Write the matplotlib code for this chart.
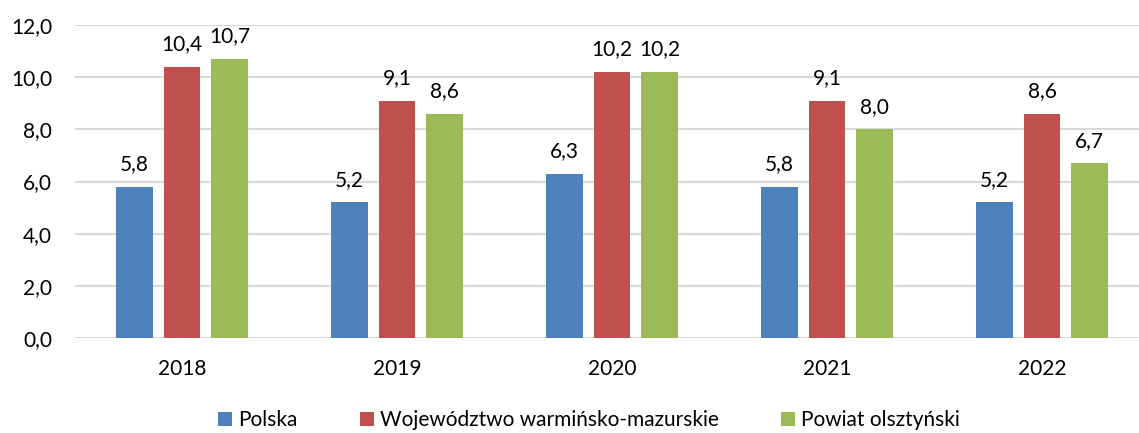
import numpy as np
import matplotlib.pyplot as plt

years = ['2018', '2019', '2020', '2021', '2022']
polska = [5.8, 5.2, 6.3, 5.8, 5.2]
wojewodztwo = [10.4, 9.1, 10.2, 9.1, 8.6]
powiat = [10.7, 8.6, 10.2, 8.0, 6.7]

series = [
    ('Polska', polska, '#4F81BD'),
    ('Województwo warmińsko-mazurskie', wojewodztwo, '#C0504D'),
    ('Powiat olsztyński', powiat, '#9BBB59'),
]

plt.rcParams['font.family'] = ['Lato', 'DejaVu Sans']
fs = 15

fig = plt.figure(figsize=(11.39, 4.33), dpi=100)
# plot area runs a little past the right edge, as in the reference
ax = fig.add_axes([74.5 / 1139, 1 - 338 / 433, 1075 / 1139, 313 / 433])

x = np.arange(len(years))
step = 0.222
width = 0.172
for i, (name, vals, color) in enumerate(series):
    pos = x + (i - 1) * step
    bars = ax.bar(pos, vals, width, color=color, label=name, zorder=3)
    for b, v in zip(bars, vals):
        ax.annotate(f'{v:.1f}'.replace('.', ','),
                    (b.get_x() + b.get_width() / 2, v),
                    xytext=(0, 9), textcoords='offset points',
                    ha='center', va='bottom', fontsize=fs)

ax.set_xlim(-0.5, len(years) - 0.5)
ax.set_ylim(0, 12)
ax.set_yticks(np.arange(0, 13, 2))
ax.set_yticklabels([f'{t:.1f}'.replace('.', ',') for t in np.arange(0, 13, 2)])
ax.set_xticks(x)
ax.set_xticklabels(years)
ax.tick_params(axis='both', length=0, labelsize=fs)
ax.tick_params(axis='y', pad=16)
ax.tick_params(axis='x', pad=15)
ax.yaxis.grid(True, color='#D9D9D9', linewidth=1.5, zorder=0)
for s in ax.spines.values():
    s.set_visible(False)

fig.legend(loc='center', bbox_to_anchor=(589 / 1139, 1 - 420 / 433), ncol=3,
           frameon=False, fontsize=fs, handlelength=0.65, handleheight=0.65,
           handletextpad=0.3, columnspacing=3.0)

fig.savefig('out.png', dpi=100)
